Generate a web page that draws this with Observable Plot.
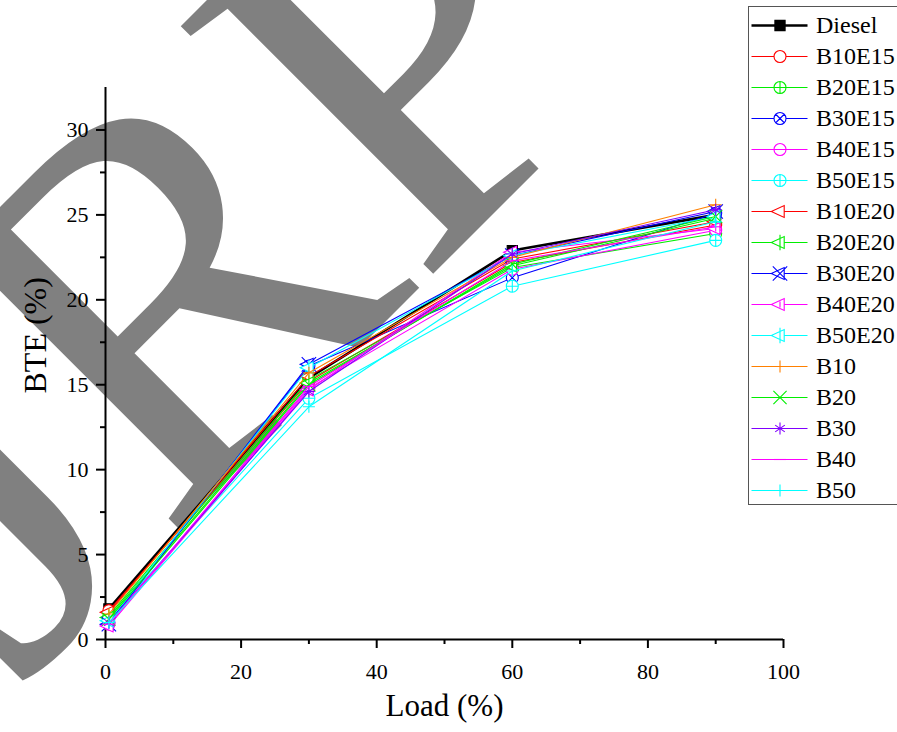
<!DOCTYPE html>
<html><head><meta charset="utf-8">
<script src="https://cdn.jsdelivr.net/npm/d3@7"></script>
<script src="https://cdn.jsdelivr.net/npm/@observablehq/plot@0.6"></script>
<style>
body{margin:0;background:#fff;}
#wrap{position:relative;width:897px;height:732px;overflow:hidden;background:#fff;}
#legend{position:absolute;left:748px;top:6px;width:170px;height:497px;border:1.5px solid #555;background:#fff;}
</style></head><body><div id="wrap"><div id="chart"></div><div id="legend"></div></div>
<script>
// ---- data ----
const loads = [0.5, 30, 60, 90];
const seriesNames = ["Diesel","B10E15","B20E15","B30E15","B40E15","B50E15","B10E20","B20E20","B30E20","B40E20","B50E20","B10","B20","B30","B40","B50"];
const diesel = [1.8, 15.4, 22.9, 25.0];
const b10e15 = [1.7, 15.2, 22.2, 24.4];
const b20e15 = [1.4, 15.3, 21.9, 23.9];
const b30e15 = [1.0, 16.1, 21.3, 25.1];
const b40e15 = [0.9, 14.8, 21.8, 24.1];
const b50e15 = [1.2, 14.2, 20.8, 23.5];
const b10e20 = [1.6, 15.5, 22.4, 24.6];
const b20e20 = [1.3, 15.1, 22.0, 24.8];
const b30e20 = [0.9, 16.2, 22.6, 25.2];
const b40e20 = [0.8, 14.7, 22.8, 24.2];
const b50e20 = [1.1, 16.0, 22.6, 24.9];
const b10 = [1.5, 15.7, 22.5, 25.6];
const b20 = [1.2, 15.0, 22.1, 24.9];
const b30 = [1.0, 14.6, 22.7, 25.3];
const b40 = [0.9, 14.9, 22.3, 24.3];
const b50 = [1.0, 13.7, 21.7, 24.6];
const seriesValues = [diesel,b10e15,b20e15,b30e15,b40e15,b50e15,b10e20,b20e20,b30e20,b40e20,b50e20,b10,b20,b30,b40,b50];
const seriesColors = ["#000000","#ff0000","#00ee00","#0000ff","#ff00ff","#00ffff","#ff0000","#00ee00","#0000ff","#ff00ff","#00ffff","#ff8000","#00ee00","#8000ff","#ff00ff","#00ffff"];
const xTicks = [0,20,40,60,80,100];
const xMinor = [10,30,50,70,90];
const yTicks = [0,5,10,15,20,25,30];
const yMinor = [2.5,7.5,12.5,17.5,22.5,27.5];

// ---- symbols ----
const S = f => ({draw(c, size){ const r = Math.sqrt(size/Math.PI); f(c, r); }});
const circlePath = (c,r) => { c.moveTo(r,0); c.arc(0,0,r,0,2*Math.PI); c.closePath(); };
const triPath = (c,r) => { c.moveTo(-1.45*r,0); c.lineTo(0.7*r,-r); c.lineTo(0.7*r,r); c.closePath(); };
const symSquare = S((c,r)=>{ const h=0.85*r; c.moveTo(-h,-h); c.lineTo(h,-h); c.lineTo(h,h); c.lineTo(-h,h); c.closePath(); });
const symCircle = S(circlePath);
const symCirclePlus = S((c,r)=>{ circlePath(c,r); c.moveTo(-r,0); c.lineTo(r,0); c.moveTo(0,-r); c.lineTo(0,r); });
const symCircleX = S((c,r)=>{ circlePath(c,r); const d=r*0.707; c.moveTo(-d,-d); c.lineTo(d,d); c.moveTo(-d,d); c.lineTo(d,-d); });
const symCircleBar = S((c,r)=>{ circlePath(c,r); c.moveTo(-r,0); c.lineTo(r,0); });
const symTri = S(triPath);
const symTriBar = S((c,r)=>{ triPath(c,r); c.moveTo(0,-1.3*r); c.lineTo(0,1.3*r); });
const symTriX = S((c,r)=>{ triPath(c,r); const d=1.2*r; c.moveTo(-d,-d); c.lineTo(d,d); c.moveTo(-d,d); c.lineTo(d,-d); });
const symTriShort = S((c,r)=>{ triPath(c,r); c.moveTo(0,-0.5*r); c.lineTo(0,0.5*r); });
const symPlus = S((c,r)=>{ c.moveTo(-r,0); c.lineTo(r,0); c.moveTo(0,-r); c.lineTo(0,r); });
const symTimes = S((c,r)=>{ const d=1.1*r; c.moveTo(-d,-d); c.lineTo(d,d); c.moveTo(-d,d); c.lineTo(d,-d); });
const symStar = S((c,r)=>{ c.moveTo(0,-r); c.lineTo(0,r); const d=r*0.8; c.moveTo(-d,-d*0.7); c.lineTo(d,d*0.7); c.moveTo(-d,d*0.7); c.lineTo(d,-d*0.7); c.moveTo(-r,0); c.lineTo(r,0); });
const symDash = S((c,r)=>{ c.moveTo(-r,0); c.lineTo(r,0); });
const seriesSymbols = [symSquare,symCircle,symCirclePlus,symCircleX,symCircleBar,symCirclePlus,symTri,symTriBar,symTriX,symTriShort,symTriBar,symPlus,symTimes,symStar,symDash,symPlus];
const hollow = [false,true,true,true,true,true,true,true,true,true,true,false,false,false,false,false];

// ---- rows ----
const seriesRows = seriesNames.map((name,i) => loads.map((load,j) => ({series:name, load, bte: seriesValues[i][j]})));

const F = "Liberation Serif";

const marks = [
  Plot.text(["JRP"], {text: d=>d, frameAnchor:"top-left", dx: 16-105, dy: 690-87, rotate:-45, textAnchor:"start", lineAnchor:"bottom", fontSize:540, fill:"#808080", fontFamily:F}),
  Plot.ruleY([0], {stroke:"#000", strokeWidth:2}),
  Plot.ruleX([0], {stroke:"#000", strokeWidth:2}),
  Plot.axisX({ticks:xTicks, tickSize:9, tickPadding:15, strokeWidth:2, fontSize:22, fontFamily:F, label:null, tickFormat:d=>String(d)}),
  Plot.axisX({ticks:xMinor, tickSize:5, strokeWidth:2, text:null, label:null}),
  Plot.axisY({ticks:yTicks, tickSize:9, tickPadding:8, strokeWidth:2, fontSize:22, fontFamily:F, label:null, tickFormat:d=>String(d)}),
  Plot.axisY({ticks:yMinor, tickSize:5, strokeWidth:2, text:null, label:null}),
  Plot.text(["Load (%)"], {text:d=>d, frameAnchor:"bottom", dy:76, fontSize:31, fontFamily:F}),
  Plot.text(["BTE (%)"], {text:d=>d, frameAnchor:"left", dx:-70, dy:30, rotate:-90, fontSize:32, fontFamily:F})
];
seriesRows.forEach((rows,i) => {
  marks.push(Plot.line(rows, {x:"load", y:"bte", stroke:seriesColors[i], strokeWidth: i===0 ? 2.6 : 1.1}));
  marks.push(Plot.dot(rows, {x:"load", y:"bte", symbol: seriesSymbols[i], r:6,
    stroke: seriesColors[i], strokeWidth: 1.1,
    fill: i===0 ? "#000" : (hollow[i] ? "#fff" : "none")}));
});

const chart = Plot.plot({
  width: 897, height: 732,
  marginLeft: 105, marginRight: 114, marginTop: 87, marginBottom: 93,
  x: {domain:[0,100], axis:null},
  y: {domain:[0,32.5], axis:null},
  style: {fontFamily: "'Liberation Serif', serif", fontSize: "22px", background: "#fff", color:"#000", overflow:"visible"},
  marks
});
document.getElementById("chart").append(chart);

// ---- legend ----
const lmarks = [];
seriesNames.forEach((name,i) => {
  lmarks.push(Plot.ruleY([name], {x1:0, x2:1, stroke:seriesColors[i], strokeWidth: i===0 ? 2.6 : 1.1}));
  lmarks.push(Plot.dot([name], {x:0.5, y:d=>d, symbol:seriesSymbols[i], r:6, stroke:seriesColors[i], strokeWidth:1.1,
    fill: i===0 ? "#000" : (hollow[i] ? "#fff" : "none")}));
});
lmarks.push(Plot.text(seriesNames, {x:1, y:d=>d, text:d=>d, dx:8, textAnchor:"start", fontSize:24, fontFamily:F}));
const legend = Plot.plot({
  width: 170, height: 497, margin: 0,
  x: {domain:[0,1], range:[2.5,58.5], axis:null},
  y: {type:"point", domain: seriesNames, range:[18,483], padding:0, axis:null},
  style: {fontFamily:"'Liberation Serif', serif", background:"#fff", color:"#000"},
  marks: lmarks
});
document.getElementById("legend").append(legend);
</script></body></html>
